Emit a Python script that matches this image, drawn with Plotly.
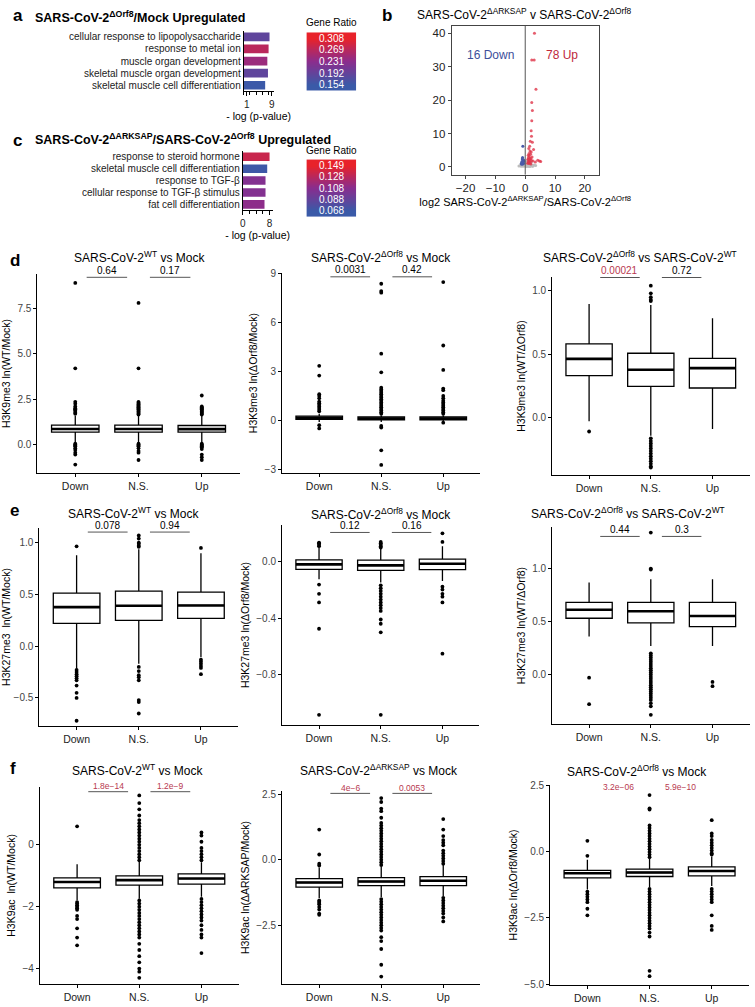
import plotly.graph_objects as go

W, H = 755, 1007
FONT = "Liberation Sans, Arial, Helvetica, sans-serif"
SIG = "#b8394f"
CS = [[0.0, "#3a5aa8"], [0.5, "#8a2d8e"], [1.0, "#e8222a"]]

categories = ["Down", "N.S.", "Up"]

# ---------------- panel a ----------------
a_terms = ["cellular response to lipopolysaccharide", "response to metal ion",
           "muscle organ development", "skeletal muscle organ development",
           "skeletal muscle cell differentiation"]
a_logp = [8.3, 8.0, 7.6, 7.8, 6.9]
a_ratio = [0.19, 0.27, 0.245, 0.19, 0.155]
a_scale = [0.308, 0.269, 0.231, 0.192, 0.154]

# ---------------- panel c ----------------
c_terms = ["response to steroid hormone", "skeletal muscle cell differentiation",
           "response to TGF-β", "cellular response to TGF-β stimulus",
           "fat cell differentiation"]
c_logp = [8.0, 7.3, 6.8, 6.8, 6.5]
c_ratio = [0.135, 0.07, 0.105, 0.105, 0.11]
c_scale = [0.149, 0.128, 0.108, 0.088, 0.068]

# ---------------- panel b (volcano) ----------------
b_up_x = [3.1, 2.2, 3.0, 3.6, 2.2, 2.4, 2.2, 2.0, 2.1, 1.7, 2.4, 1.5, 2.8, 1.2, 1.6, 2.0, 1.3, 1.8, 1.0, 1.4,
          2.3, 1.1, 1.5, 1.9, 0.9, 1.2, 1.6, 2.1, 2.6, 1.0, 1.3, 1.7, 4.2, 4.8, 5.2, 3.4, 1.1, 1.4, 0.8, 1.9]
b_up_y = [40.0, 32.0, 32.0, 23.2, 19.3, 16.9, 13.8, 10.8, 9.2, 7.7, 7.4, 6.2, 5.2, 5.5, 4.8, 4.5, 4.0, 3.8, 3.5, 3.3,
          3.0, 2.8, 2.6, 2.5, 2.3, 2.2, 2.0, 1.9, 1.8, 1.6, 1.5, 1.4, 2.0, 1.8, 1.6, 1.5, 1.2, 1.0, 1.1, 0.9]
b_down_x = [-0.8, -0.6, -1.1, -0.9, -0.7, -1.3, -0.5, -1.0, -0.8, -0.6, -1.2, -0.9]
b_down_y = [6.2, 2.1, 1.6, 2.8, 1.3, 1.1, 1.8, 2.4, 0.9, 1.0, 0.8, 1.5]
b_ns_x = [-2.1, -1.6, -1.2, -0.9, -0.6, -0.4, -0.2, 0.1, 0.3, 0.5, 0.7, 0.9, 1.1, 1.3, 1.6, 1.9, 2.2, 2.6, 3.0, 3.5,
          -1.4, -0.8, -0.3, 0.2, 0.6, 1.0, 1.4, 1.8, 2.4, -1.0, -0.5, 0.0, 0.4, 0.8, 1.2, 1.7, 2.0, -0.7, 0.3, 1.5]
b_ns_y = [0.3, 0.5, 0.8, 0.4, 1.0, 0.6, 1.3, 0.9, 0.5, 1.2, 0.7, 0.3, 1.0, 0.6, 0.4, 0.8, 0.5, 0.3, 0.6, 0.4,
          0.2, 0.2, 0.3, 0.2, 0.3, 0.2, 0.2, 0.3, 0.2, 1.5, 1.9, 0.7, 1.6, 2.0, 1.7, 1.1, 1.4, 2.2, 0.1, 0.1]

# ---------------- panel d ----------------
d1_q1 = [0.68, 0.68, 0.68]; d1_med = [0.86, 0.86, 0.85]; d1_q3 = [1.07, 1.07, 1.05]
d1_lo = [0.12, 0.10, 0.10]; d1_hi = [1.60, 1.60, 1.60]
d1_out_down = [8.9, 4.2, 2.35, 2.25, 2.1, 2.0, 1.95, 1.9, 1.85, 1.75, 1.7, 0.05, 0.0, -0.05, -0.1, -0.2, -0.3, -0.45, -0.55, -1.1]
d1_out_ns = [7.8, 4.2, 2.35, 2.3, 2.25, 2.2, 2.15, 2.1, 2.05, 2.0, 1.95, 1.9, 1.85, 1.8, 1.75, 1.7, 1.65,
             0.05, 0.0, -0.05, -0.1, -0.2, -0.35, -0.45, -0.85]
d1_out_up = [2.7, 2.1, 2.05, 2.0, 1.95, 1.9, 1.85, 1.8, 1.75, 1.7, 1.65, 0.05, 0.0, -0.05, -0.1, -0.15, -0.25, -0.55, -0.7, -0.85]
d1_p = ["0.64", "0.17"]

d2_q1 = [0.05, 0.02, 0.02]; d2_med = [0.15, 0.10, 0.10]; d2_q3 = [0.25, 0.20, 0.20]
d2_lo = [-0.10, -0.10, -0.10]; d2_hi = [0.40, 0.30, 0.30]
d2_out_down = [3.35, 2.75, 1.6, 1.5, 1.35, 1.15, 1.05, 0.95, 0.85, 0.75, 0.65, 0.55, -0.3, -0.5]
d2_out_ns = [8.4, 7.95, 7.85, 4.1, 2.95, 2.0, 1.9, 1.8, 1.7, 1.6, 1.5, 1.4, 1.3, 1.2, 1.1, 1.0, 0.9, 0.8, 0.7,
             0.6, 0.5, 0.4, -0.35, -0.45, -1.85, -2.75]
d2_out_up = [8.5, 4.6, 3.1, 1.95, 1.85, 1.5, 1.35, 1.2, 1.1, 1.0, 0.9, 0.8, 0.7, 0.6, 0.5, 0.4, -0.15]
d2_p = ["0.0031", "0.42"]

d3_q1 = [0.333, 0.249, 0.236]; d3_med = [0.465, 0.379, 0.392]; d3_q3 = [0.582, 0.509, 0.468]
d3_lo = [-0.026, -0.14, -0.086]; d3_hi = [0.896, 0.888, 0.784]
d3_out_down = [-0.106]
d3_out_ns = [1.04, 0.98, 0.95, 0.93, 0.92, -0.16, -0.18, -0.2, -0.22, -0.24, -0.26, -0.28, -0.3, -0.32,
             -0.34, -0.36, -0.38, -0.39]
d3_out_up = []
d3_p = ["0.00021", "0.72"]

# ---------------- panel e ----------------
e1_q1 = [0.221, 0.250, 0.269]; e1_med = [0.378, 0.391, 0.394]; e1_q3 = [0.513, 0.532, 0.522]
e1_lo = [-0.218, -0.17, -0.106]; e1_hi = [0.878, 0.936, 0.897]
e1_out_down = [0.965, -0.23, -0.25, -0.27, -0.29, -0.31, -0.33, -0.38, -0.45, -0.5, -0.72]
e1_out_ns = [1.07, 1.04, 1.0, 0.99, 0.97, 0.96, -0.2, -0.24, -0.28, -0.3, -0.33, -0.52, -0.54, -0.65]
e1_out_up = [0.95, -0.13, -0.15, -0.17, -0.19, -0.21, -0.27]
e1_p = ["0.078", "0.94"]

e2_q1 = [-0.058, -0.065, -0.060]; e2_med = [-0.023, -0.030, -0.018]; e2_q3 = [0.009, 0.007, 0.014]
e2_lo = [-0.127, -0.15, -0.14]; e2_hi = [0.092, 0.085, 0.104]
e2_out_down = [0.13, 0.125, 0.115, 0.105, -0.165, -0.23, -0.29, -0.475, -1.08]
e2_out_ns = [0.135, 0.125, 0.115, 0.105, 0.095, -0.17, -0.19, -0.21, -0.23, -0.25, -0.27, -0.29, -0.31,
             -0.33, -0.35, -0.41, -0.44, -0.5, -1.08]
e2_out_up = [0.195, 0.135, -0.18, -0.2, -0.23, -0.25, -0.29, -0.65]
e2_p = ["0.12", "0.16"]

e3_q1 = [0.531, 0.487, 0.453]; e3_med = [0.612, 0.597, 0.553]; e3_q3 = [0.681, 0.681, 0.681]
e3_lo = [0.36, 0.27, 0.269]; e3_hi = [0.869, 0.90, 0.90]
e3_out_down = [-0.03, -0.28]
e3_out_ns = [1.34, 1.0, 0.99, 0.2, 0.18, 0.16, 0.14, 0.12, 0.1, 0.08, 0.06, 0.04, 0.02, 0.0, -0.02, -0.04,
             -0.06, -0.08, -0.1, -0.12, -0.14, -0.16, -0.18, -0.2, -0.22, -0.24, -0.27, -0.3, -0.38]
e3_out_up = [-0.07, -0.11]
e3_p = ["0.44", "0.3"]

# ---------------- panel f ----------------
f1_q1 = [-1.39, -1.30, -1.27]; f1_med = [-1.20, -1.14, -1.09]; f1_q3 = [-1.07, -1.00, -0.94]
f1_lo = [-1.79, -1.74, -1.68]; f1_hi = [-0.63, -0.55, -0.56]
f1_out_down = [0.6, -1.85, -1.9, -1.95, -2.0, -2.05, -2.1, -2.3, -2.4, -2.7, -3.0, -3.25]
f1_out_ns = [1.6, 1.35, 1.15, 0.95, 0.8, 0.7, 0.6, 0.5, 0.4, 0.3, 0.2, 0.1, 0.0, -0.1, -0.2, -0.3, -0.4, -0.5,
             -1.8, -1.9, -2.0, -2.1, -2.2, -2.3, -2.4, -2.5, -2.6, -2.7, -2.8, -2.9, -3.0, -3.2, -3.4, -3.6,
             -3.8, -4.0, -4.1, -4.3]
f1_out_up = [0.4, 0.3, 0.1, -0.1, -0.2, -0.3, -0.4, -0.5, -1.75, -1.85, -1.95, -2.05, -2.15, -2.25, -2.35,
             -2.45, -2.6, -2.75, -2.9, -3.0, -3.5]
f1_p = ["1.8e−14", "1.2e−9"]

f2_q1 = [-1.04, -0.99, -0.99]; f2_med = [-0.867, -0.83, -0.80]; f2_q3 = [-0.716, -0.68, -0.64]
f2_lo = [-1.46, -1.42, -1.39]; f2_hi = [-0.30, -0.26, -0.20]
f2_out_down = [1.15, 0.2, -0.15, -0.22, -1.55, -1.6, -1.65, -1.7, -1.8, -1.9, -2.05, -2.1]
f2_out_ns = [2.35, 2.2, 1.95, 1.85, 1.6, 1.4, 1.3, 1.2, 1.1, 1.0, 0.9, 0.8, 0.7, 0.6, 0.5, 0.4, 0.3, 0.2, 0.1,
             0.0, -0.1, -0.2, -1.5, -1.6, -1.7, -1.8, -1.9, -2.0, -2.1, -2.2, -2.3, -2.4, -2.5, -2.6, -2.7,
             -2.95, -3.1, -3.4, -4.0, -4.45]
f2_out_up = [1.55, 1.15, 0.9, 0.75, 0.65, 0.55, 0.35, 0.25, 0.15, 0.05, -0.05, -0.15, -1.45, -1.55, -1.65,
             -1.75, -1.85, -1.95, -2.05, -2.2, -2.35]
f2_p = ["4e−6", "0.0053"]

f3_q1 = [-0.98, -0.93, -0.91]; f3_med = [-0.81, -0.78, -0.72]; f3_q3 = [-0.70, -0.65, -0.57]
f3_lo = [-1.42, -1.33, -1.29]; f3_hi = [-0.30, -0.27, -0.17]
f3_out_down = [0.42, -0.15, -1.5, -1.6, -1.7, -1.8, -1.9, -2.15, -2.4]
f3_out_ns = [2.15, 1.65, 1.6, 1.0, 0.9, 0.8, 0.7, 0.6, 0.5, 0.4, 0.3, 0.2, 0.1, 0.0, -0.1, -0.2, -1.4, -1.5,
             -1.6, -1.7, -1.8, -1.9, -2.0, -2.1, -2.2, -2.3, -2.4, -2.5, -2.6, -2.7, -2.8, -2.9, -3.05, -3.2,
             -4.5, -4.7]
f3_out_up = [1.2, 0.7, 0.6, 0.45, 0.35, 0.25, 0.15, 0.05, -0.05, -0.1, -1.4, -1.5, -1.6, -1.7, -1.8, -1.9,
             -2.4, -2.8, -2.95]
f3_p = ["3.2e−06", "5.9e−10"]


def px_x(x):
    return x / W


def px_y(y):
    return 1 - y / H


fig = go.Figure()
layout = {}
annotations = []
shapes = []
counter = [0]


def new_axes(x0, x1, ytop, ybot, xa, ya):
    counter[0] += 1
    n = counter[0]
    s = "" if n == 1 else str(n)
    xd = dict(domain=[px_x(x0), px_x(x1)], anchor="y" + s)
    yd = dict(domain=[px_y(ybot), px_y(ytop)], anchor="x" + s)
    xd.update(xa)
    yd.update(ya)
    layout["xaxis" + s] = xd
    layout["yaxis" + s] = yd
    return "x" + s, "y" + s


def text(x, y, t, size=11, color="black", bold=False, xanchor="center", yanchor="middle"):
    if bold:
        t = "<b>" + t + "</b>"
    annotations.append(dict(x=px_x(x), y=px_y(y), xref="paper", yref="paper",
                            text=t, showarrow=False, xanchor=xanchor, yanchor=yanchor,
                            font=dict(size=size, color=color, family=FONT)))


# ---------- panel letters ----------
for letter, lx, ly in [("a", 8, 12), ("b", 379, 12), ("c", 8, 138), ("d", 5, 259), ("e", 5, 511), ("f", 5, 771)]:
    text(lx, ly, letter, size=17, bold=True, xanchor="left")


# ---------- GO bar panels ----------
def go_panel(terms, logp, ratio, scale, xdom, ydom, xrange, xticks, hdom, hydom, title, title_y, gr_y):
    xa, ya = new_axes(xdom[0], xdom[1], ydom[0], ydom[1],
                      dict(range=xrange, tickvals=xticks, showline=True, linecolor="black", linewidth=1,
                           ticks="outside", ticklen=4, tickcolor="black", showgrid=False, zeroline=False,
                           tickfont=dict(size=10, color="#222"),
                           minor=dict(dtick=2, ticks="outside", ticklen=3, tickcolor="black"),
                           title=dict(text="- log (p-value)", font=dict(size=10.5), standoff=2)),
                      dict(type="category", categoryorder="array", categoryarray=terms, autorange="reversed",
                           tickmode="array", tickvals=terms, ticktext=terms,
                           showline=True, linecolor="black", linewidth=1, ticks="", showgrid=False,
                           tickfont=dict(size=10, color="#222")))
    fig.add_trace(go.Bar(x=logp, y=terms, orientation="h", xaxis=xa, yaxis=ya, width=0.72,
                         marker=dict(color=ratio, colorscale=CS, cmin=min(scale), cmax=max(scale), line_width=0),
                         showlegend=False, hoverinfo="skip"))
    hx, hy = new_axes(hdom[0], hdom[1], hydom[0], hydom[1],
                      dict(visible=False, range=[-0.5, 1.5]),
                      dict(visible=False, autorange="reversed"))
    fig.add_trace(go.Heatmap(z=[[v, v] for v in scale], x=[0, 1], y=list(range(len(scale))), xaxis=hx, yaxis=hy,
                             colorscale=CS, zmin=min(scale), zmax=max(scale), showscale=False, zsmooth="best",
                             hoverinfo="skip"))
    for i, v in enumerate(scale):
        annotations.append(dict(x=0.5, y=i, xref=hx, yref=hy, text=f"{v:.3f}", showarrow=False,
                                font=dict(size=10, color="white", family=FONT)))
    text(30, title_y, title, size=12.5, bold=True, xanchor="left")
    text((hdom[0] + hdom[1]) / 2, gr_y, "Gene Ratio", size=10)


go_panel(a_terms, a_logp, a_ratio, a_scale, (242, 272), (27, 88), [0, 9.6], [1, 9], (305, 355), (27, 89),
         "SARS-CoV-2<sup>ΔOrf8</sup>/Mock Upregulated", 13, 19)
go_panel(c_terms, c_logp, c_ratio, c_scale, (241, 271), (148, 208), [0, 8.9], [0, 8], (305, 355), (155, 216),
         "SARS-CoV-2<sup>ΔARKSAP</sup>/SARS-CoV-2<sup>ΔOrf8</sup> Upregulated", 136, 148)

# ---------- volcano ----------
vx, vy = new_axes(451, 599, 22, 172,
                  dict(range=[-24.7, 24.7], tickvals=[-20, -10, 0, 10, 20], showline=True, mirror=True,
                       linecolor="#444", linewidth=1, ticks="outside", ticklen=3, tickcolor="#444",
                       showgrid=False, zeroline=False, tickfont=dict(size=11.5, color="#222"),
                       title=dict(text="log2 SARS-CoV-2<sup>ΔARKSAP</sup>/SARS-CoV-2<sup>ΔOrf8</sup>",
                                  font=dict(size=11), standoff=2)),
                  dict(range=[-2.3, 42.2], tickvals=[0, 10, 20, 30, 40], showline=True, mirror=True,
                       linecolor="#444", linewidth=1, ticks="outside", ticklen=3, tickcolor="#444",
                       showgrid=False, zeroline=False, tickfont=dict(size=11.5, color="#222")))
fig.add_trace(go.Scatter(x=b_ns_x, y=b_ns_y, mode="markers", xaxis=vx, yaxis=vy,
                         marker=dict(size=3, color="#bdbdbd"), showlegend=False, hoverinfo="skip"))
fig.add_trace(go.Scatter(x=b_down_x, y=b_down_y, mode="markers", xaxis=vx, yaxis=vy,
                         marker=dict(size=3, color="#4a5aa8"), showlegend=False, hoverinfo="skip"))
fig.add_trace(go.Scatter(x=b_up_x, y=b_up_y, mode="markers", xaxis=vx, yaxis=vy,
                         marker=dict(size=3, color="#e0364a", opacity=0.8), showlegend=False, hoverinfo="skip"))
shapes.append(dict(type="line", xref=vx, yref=vy + " domain", x0=0, x1=0, y0=0, y1=1,
                   line=dict(color="#555", width=1)))
text(490, 51, "16 Down", size=12, color="#3d4f9a")
text(562, 51, "78 Up", size=12, color="#c0283c")
text(414, 10, "SARS-CoV-2<sup>ΔARKSAP</sup> v SARS-CoV-2<sup>ΔOrf8</sup>", size=12, xanchor="left")


# ---------- box panels ----------
def box_panel(q1, med, q3, lo, hi, outs, xdom, ytop, ybot, yrange, ytv, ytt, ytitle, title, tx, ty,
              pvals, pcol, line_y, text_y, psize=10, lines=True):
    xa, ya = new_axes(xdom[0], xdom[1], ytop, ybot,
                      dict(range=[-0.6, 2.6], tickvals=[0, 1, 2], ticktext=categories, showline=True,
                           linecolor="black", linewidth=1, ticks="outside", ticklen=3, tickcolor="black",
                           showgrid=False, zeroline=False, tickfont=dict(size=10.5, color="#222")),
                      dict(range=yrange, tickvals=ytv, ticktext=ytt, showline=True, linecolor="black",
                           linewidth=1, ticks="outside", ticklen=3, tickcolor="black", showgrid=False,
                           zeroline=False, tickfont=dict(size=10, color="#444"),
                           title=dict(text=ytitle, font=dict(size=10.5), standoff=4)))
    for i, o in enumerate(outs):
        if o:
            fig.add_trace(go.Scatter(x=[i] * len(o), y=o, mode="markers", xaxis=xa, yaxis=ya,
                                     marker=dict(size=3.8, color="black"), showlegend=False, hoverinfo="skip"))
    fig.add_trace(go.Box(x=[0, 1, 2], q1=q1, median=med, q3=q3, lowerfence=lo, upperfence=hi, xaxis=xa, yaxis=ya,
                         width=0.75, fillcolor="white", line=dict(color="black", width=1.3), whiskerwidth=0,
                         showlegend=False, hoverinfo="skip"))
    mx, my = [], []
    for i, m in enumerate(med):
        mx += [i - 0.375, i + 0.375, None]
        my += [m, m, None]
    fig.add_trace(go.Scatter(x=mx, y=my, mode="lines", xaxis=xa, yaxis=ya, line=dict(color="black", width=2.6),
                             showlegend=False, hoverinfo="skip"))
    text(tx, ty, title, size=12)
    for k, (p, c) in enumerate(zip(pvals, pcol)):
        x0, x1 = k + 0.18, k + 0.82
        if lines:
            shapes.append(dict(type="line", xref=xa, yref="paper", x0=x0, x1=x1, y0=px_y(line_y), y1=px_y(line_y),
                               line=dict(color="#555", width=1)))
        annotations.append(dict(x=(x0 + x1) / 2, y=px_y(text_y), xref=xa, yref="paper", text=p,
                                showarrow=False, yanchor="middle",
                                font=dict(size=psize, color=c, family=FONT)))


BK = "black"
# d row
box_panel(d1_q1, d1_med, d1_q3, d1_lo, d1_hi, [d1_out_down, d1_out_ns, d1_out_up], (34.5, 238),
          272, 473, [-1.58, 9.4], [0, 2.5, 5, 7.5], ["0.0", "2.5", "5.0", "7.5"], "H3K9me3 ln(WT/Mock)",
          "SARS-CoV-2<sup>WT</sup> vs Mock", 137, 255, d1_p, [BK, BK], 275.5, 268.3)
box_panel(d2_q1, d2_med, d2_q3, d2_lo, d2_hi, [d2_out_down, d2_out_ns, d2_out_up], (280.5, 480),
          271, 473, [-3.26, 9.07], [-3, 0, 3, 6, 9], ["−3", "0", "3", "6", "9"], "H3K9me3 ln(ΔOrf8/Mock)",
          "SARS-CoV-2<sup>ΔOrf8</sup> vs Mock", 380, 255, d2_p, [BK, BK], 275, 268)
box_panel(d3_q1, d3_med, d3_q3, d3_lo, d3_hi, [d3_out_down, d3_out_ns, d3_out_up], (552, 750.5),
          275, 475, [-0.45, 1.11], [0, 0.5, 1.0], ["0.0", "0.5", "1.0"], "H3K9me3 ln(WT/ΔOrf8)",
          "SARS-CoV-2<sup>ΔOrf8</sup> vs SARS-CoV-2<sup>WT</sup>", 640, 255, d3_p, [SIG, BK], 275.7, 269)
# e row
box_panel(e1_q1, e1_med, e1_q3, e1_lo, e1_hi, [e1_out_down, e1_out_ns, e1_out_up], (36.5, 236.5),
          528, 728, [-0.773, 1.144], [-0.5, 0, 0.5, 1.0], ["−0.5", "0.0", "0.5", "1.0"], "H3K27me3  ln(WT/Mock)",
          "SARS-CoV-2<sup>WT</sup> vs Mock", 131, 513, e1_p, [BK, BK], 532.3, 525.7)
box_panel(e2_q1, e2_med, e2_q3, e2_lo, e2_hi, [e2_out_down, e2_out_ns, e2_out_up], (280.5, 479),
          525, 727, [-1.153, 0.255], [-0.8, -0.4, 0], ["−0.8", "−0.4", "0.0"], "H3K27me3 ln(ΔOrf8/Mock)",
          "SARS-CoV-2<sup>ΔOrf8</sup> vs Mock", 380, 514, e2_p, [BK, BK], 532.7, 526)
box_panel(e3_q1, e3_med, e3_q3, e3_lo, e3_hi, [e3_out_down, e3_out_ns, e3_out_up], (552, 750.5),
          527, 726, [-0.469, 1.394], [0, 0.5, 1.0], ["0.0", "0.5", "1.0"], "H3K27me3 ln(WT/ΔOrf8)",
          "SARS-CoV-2<sup>ΔOrf8</sup> vs SARS-CoV-2<sup>WT</sup>", 628, 513, e3_p, [BK, BK], 536.7, 530)
# f row
box_panel(f1_q1, f1_med, f1_q3, f1_lo, f1_hi, [f1_out_down, f1_out_ns, f1_out_up], (37, 237),
          789, 988, [-4.505, 1.88], [-4, -2, 0], ["−4", "−2", "0"], "H3K9ac  ln(WT/Mock)",
          "SARS-CoV-2<sup>WT</sup> vs Mock", 135, 772, f1_p, [SIG, SIG], 794, 788, psize=8.5)
box_panel(f2_q1, f2_med, f2_q3, f2_lo, f2_hi, [f2_out_down, f2_out_ns, f2_out_up], (280.5, 480),
          793, 988, [-4.74, 2.63], [-2.5, 0, 2.5], ["−2.5", "0.0", "2.5"], "H3K9ac ln(ΔARKSAP/Mock)",
          "SARS-CoV-2<sup>ΔARKSAP</sup> vs Mock", 378, 772, f2_p, [SIG, SIG], 795.7, 790, psize=8.5)
box_panel(f3_q1, f3_med, f3_q3, f3_lo, f3_hi, [f3_out_down, f3_out_ns, f3_out_up], (550, 750),
          787, 989, [-5.04, 2.54], [-5, -2.5, 0, 2.5], ["−5.0", "−2.5", "0.0", "2.5"], "H3K9ac ln(ΔOrf8/Mock)",
          "SARS-CoV-2<sup>ΔOrf8</sup> vs Mock", 637, 773, f3_p, [SIG, SIG], 795, 789.5, psize=8.5, lines=False)

layout.update(dict(width=W, height=H, autosize=False, margin=dict(l=0, r=0, t=0, b=0),
                   paper_bgcolor="white", plot_bgcolor="white", font=dict(family=FONT, color="black"),
                   annotations=annotations, shapes=shapes, showlegend=False))
fig.update_layout(**layout)
fig.write_html("out.html", config={"displayModeBar": False, "staticPlot": True},
               post_script="document.body.style.margin='0';document.body.style.padding='0';"
                           "document.body.style.overflow='hidden';")
